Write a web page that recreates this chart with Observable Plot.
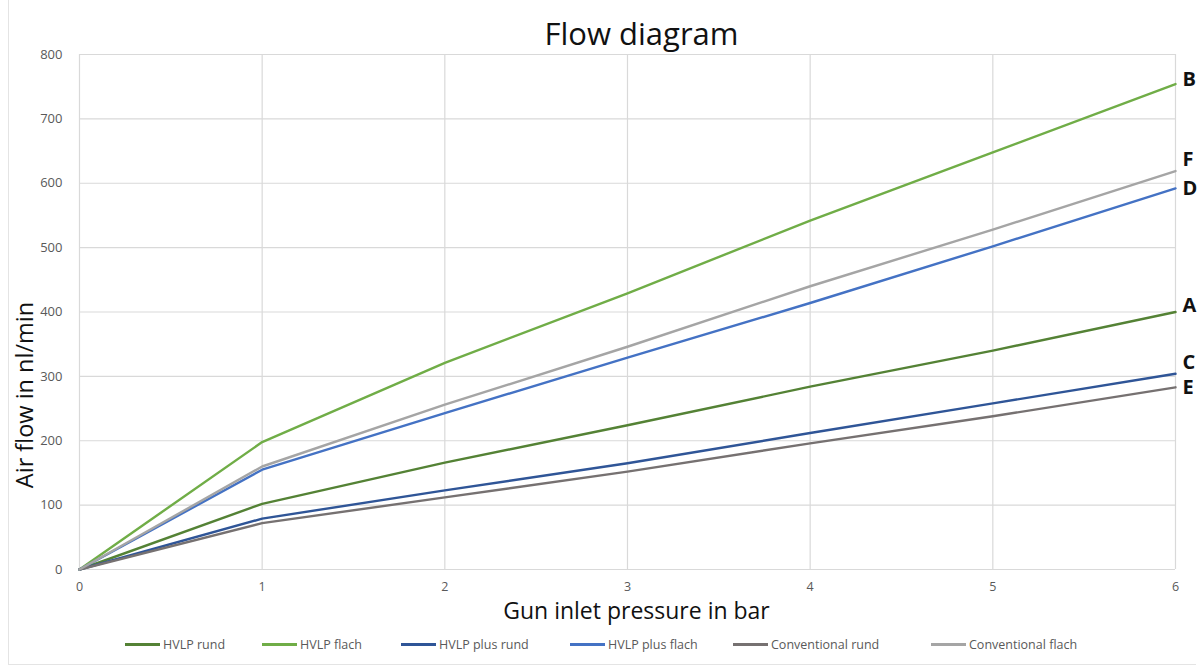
<!DOCTYPE html>
<html>
<head>
<meta charset="utf-8">
<script src="https://cdn.jsdelivr.net/npm/d3@7"></script>
<script src="https://cdn.jsdelivr.net/npm/@observablehq/plot@0.6"></script>
<style>
  html, body { margin: 0; padding: 0; background: #fff; }
  #wrap { position: relative; width: 1198px; height: 669px; overflow: hidden; font-family: "Open Sans", sans-serif; }
  #frame { position: absolute; left: 8px; top: 0; width: 1188px; height: 665px; border-left: 1px solid #e4e4e4; border-bottom: 1px solid #e4e4e4; box-sizing: border-box; pointer-events: none; }
  #legend { position: absolute; left: 0; top: 634px; width: 1198px; font-size: 12.5px; color: #595959; }
  .item { position: absolute; display: flex; align-items: center; height: 20px; white-space: nowrap; }
  .sw { display: inline-block; width: 35px; height: 3px; margin-right: 3px; }
</style>
</head>
<body>
<div id="wrap">
  <div id="chart"></div>
  <div id="legend"></div>
  <div id="frame"></div>
</div>
<script>
const pressure = [0, 1, 2, 3, 4, 5, 6];
const seriesNames = ["HVLP rund", "HVLP flach", "HVLP plus rund", "HVLP plus flach", "Conventional rund", "Conventional flach"];
const endLabels = ["A", "B", "C", "D", "E", "F"];
const hvlpRund = [0, 102, 166, 224, 284, 340, 400];
const hvlpFlach = [0, 198, 321, 429, 542, 648, 754];
const hvlpPlusRund = [0, 79, 123, 165, 212, 258, 304];
const hvlpPlusFlach = [0, 155, 243, 329, 414, 502, 592];
const convRund = [0, 72, 112, 152, 196, 238, 283];
const convFlach = [0, 160, 256, 346, 440, 528, 619];
const yTicks = [0, 100, 200, 300, 400, 500, 600, 700, 800];
const xTicks = [0, 1, 2, 3, 4, 5, 6];

const colors = ["#548235", "#70ad47", "#2f5597", "#4472c4", "#767171", "#a5a5a5"];
const allValues = [hvlpRund, hvlpFlach, hvlpPlusRund, hvlpPlusFlach, convRund, convFlach];
const labelDy = [-6, -5, -11, 0, 0, -11];

const data = [];
seriesNames.forEach((s, i) => pressure.forEach((p, j) => data.push({series: s, x: p, y: allValues[i][j]})));
const ends = seriesNames.map((s, i) => ({series: s, label: endLabels[i], x: pressure[pressure.length - 1], y: allValues[i][pressure.length - 1]}));

const chart = Plot.plot({
  width: 1198,
  height: 625,
  marginLeft: 79,
  marginRight: 23,
  marginTop: 54,
  marginBottom: 56,
  style: {fontFamily: "'Open Sans', sans-serif", fontSize: "13px", color: "#595959", background: "transparent", overflow: "visible"},
  x: {domain: [0, 6], ticks: xTicks, tickSize: 0, tickPadding: 13, label: null},
  y: {domain: [0, 800], ticks: yTicks, tickSize: 0, tickPadding: 17, label: null},
  color: {domain: seriesNames, range: colors},
  marks: [
    Plot.gridX(xTicks, {stroke: "#d9d9d9", strokeOpacity: 1, strokeWidth: 1.2}),
    Plot.gridY(yTicks, {stroke: "#d9d9d9", strokeOpacity: 1, strokeWidth: 1.2}),
    Plot.axisX({ticks: xTicks, tickFormat: "d", tickSize: 0, tickPadding: 13, label: null, fill: "#595959", fontSize: 12.5}),
    Plot.axisY({ticks: yTicks, tickFormat: "d", tickSize: 0, tickPadding: 17, label: null, fill: "#595959"}),
    Plot.line(data, {x: "x", y: "y", z: "series", stroke: "series", strokeWidth: 2.4}),
    ...ends.map((d, i) => Plot.text([d], {x: "x", y: "y", text: "label", textAnchor: "start", dx: 7, dy: labelDy[i], fontSize: 20, fontWeight: "bold", fill: "#111"})),
    Plot.text(["Flow diagram"], {frameAnchor: "top", text: d => d, textAnchor: "middle", dx: 14, dy: -19, fontSize: 31, fill: "#111", lineAnchor: "middle"}),
    Plot.text(["Gun inlet pressure in bar"], {frameAnchor: "bottom", text: d => d, textAnchor: "middle", dx: 9, dy: 42, fontSize: 23, fill: "#111", lineAnchor: "middle"}),
    Plot.text(["Air flow in nl/min"], {frameAnchor: "left", text: d => d, textAnchor: "middle", rotate: -90, dx: -54, dy: 83, fontSize: 23.5, fill: "#111", lineAnchor: "middle"})
  ]
});
document.getElementById("chart").appendChild(chart);

const legendLeft = [125, 262, 401, 570, 733, 931];
const legend = document.getElementById("legend");
seriesNames.forEach((s, i) => {
  const it = document.createElement("div");
  it.className = "item";
  it.style.left = legendLeft[i] + "px";
  const sw = document.createElement("span");
  sw.className = "sw";
  sw.style.background = colors[i];
  it.appendChild(sw);
  const t = document.createElement("span");
  t.textContent = s;
  it.appendChild(t);
  legend.appendChild(it);
});
</script>
</body>
</html>
